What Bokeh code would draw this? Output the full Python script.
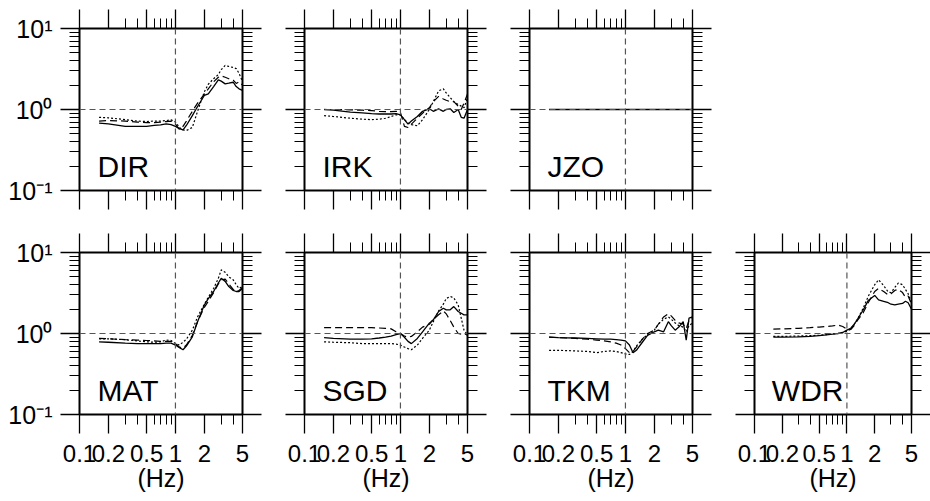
from bokeh.plotting import figure
from bokeh.layouts import gridplot
from bokeh.models import FixedTicker, LogAxis, Span, Label
from bokeh.embed import file_html
from bokeh.resources import INLINE

# ---------------- data ----------------
FREQ = [0.16, 0.2, 0.3, 0.4, 0.5, 0.6, 0.7, 0.8, 0.9, 1.0, 1.1, 1.2, 1.3,
        1.5, 1.7, 2.0, 2.2, 2.5, 2.8, 3.0, 3.3, 3.6, 4.0, 4.3, 4.6, 5.0]

DIR_solid = [0.68, 0.665, 0.62, 0.62, 0.62, 0.635, 0.645, 0.665, 0.65, 0.62, 0.58, 0.56, 0.635,
             0.84, 1.09, 1.49, 1.56, 1.92, 2.32, 2.24, 2.07, 2.11, 2.17, 1.92, 1.8, 1.72]
DIR_dashed = [0.72, 0.73, 0.72, 0.70, 0.69, 0.69, 0.70, 0.71, 0.72, 0.66, 0.57, 0.62, 0.72,
              0.95, 1.2, 1.55, 1.8, 2.2, 2.5, 2.6, 2.5, 2.4, 2.3, 2.1, 2.2, 2.0]
DIR_dotted = [0.80, 0.79, 0.75, 0.72, 0.71, 0.72, 0.72, 0.73, 0.745, 0.70, 0.60, 0.56, 0.55,
              0.60, 0.95, 1.65, 2.05, 2.4, 2.7, 3.1, 3.5, 3.4, 3.3, 3.2, 2.8, 2.2]

IRK_solid = [1.0, 0.98, 0.93, 0.91, 0.89, 0.88, 0.88, 0.88, 0.89, 0.86, 0.75, 0.66, 0.72,
             0.82, 0.95, 1.02, 0.95, 1.02, 0.95, 1.0, 1.02, 0.92, 1.0, 0.8, 0.78, 1.0]
IRK_dashed = [1.0, 1.0, 0.99, 0.98, 0.97, 0.95, 0.94, 0.94, 0.95, 0.92, 0.62, 0.60, 0.66,
              0.78, 0.9, 1.05, 1.25, 1.45, 1.35, 1.3, 1.25, 1.25, 1.1, 1.0, 1.2, 1.55]
IRK_dotted = [0.84, 0.82, 0.78, 0.76, 0.75, 0.76, 0.78, 0.82, 0.86, 0.86, 0.75, 0.68, 0.65,
              0.63, 0.75, 1.0, 1.25, 1.7, 1.8, 1.6, 1.4, 1.25, 1.15, 1.1, 1.05, 1.4]

JZO_solid = [1.0, 1.0, 1.0, 1.0, 1.0, 1.0, 1.0, 1.0, 1.0, 1.0, 1.0, 1.0, 1.0,
             1.0, 1.0, 1.0, 1.0, 1.0, 1.0, 1.0, 1.0, 1.0, 1.0, 1.0, 1.0, 1.0]
JZO_dashed = [1.0, 1.0, 1.0, 1.0, 1.0, 1.0, 1.0, 1.0, 1.0, 1.0, 1.0, 1.0, 1.0,
              1.0, 1.0, 1.0, 1.0, 1.0, 1.0, 1.0, 1.0, 1.0, 1.0, 1.0, 1.0, 1.0]
JZO_dotted = [1.0, 1.0, 1.0, 1.0, 1.0, 1.0, 1.0, 1.0, 1.0, 1.0, 1.0, 1.0, 1.0,
              1.0, 1.0, 1.0, 1.0, 1.0, 1.0, 1.0, 1.0, 1.0, 1.0, 1.0, 1.0, 1.0]

MAT_solid = [0.79, 0.78, 0.76, 0.75, 0.75, 0.75, 0.75, 0.76, 0.76, 0.72, 0.67, 0.63, 0.70,
             0.91, 1.4, 2.25, 2.7, 3.3, 4.2, 4.8, 4.4, 3.8, 3.4, 3.3, 3.3, 3.6]
MAT_dashed = [0.87, 0.86, 0.84, 0.83, 0.82, 0.81, 0.80, 0.80, 0.80, 0.75, 0.68, 0.66, 0.72,
              0.95, 1.4, 2.1, 2.5, 3.2, 4.1, 4.6, 4.7, 4.1, 3.5, 3.3, 3.4, 3.7]
MAT_dotted = [0.86, 0.86, 0.84, 0.81, 0.79, 0.78, 0.79, 0.83, 0.82, 0.75, 0.72, 0.78, 0.85,
              1.1, 1.6, 2.3, 2.8, 3.6, 4.8, 6.1, 5.7, 5.0, 4.6, 4.0, 3.6, 3.8]

SGD_solid = [0.89, 0.87, 0.85, 0.85, 0.86, 0.88, 0.9, 0.93, 0.97, 1.0, 0.9, 0.8, 0.75,
             0.87, 1.05, 1.34, 1.47, 1.87, 2.05, 1.96, 1.96, 2.15, 1.87, 1.78, 1.7, 1.7]
SGD_dashed = [1.18, 1.18, 1.18, 1.18, 1.18, 1.17, 1.16, 1.14, 1.05, 1.0, 0.93, 0.9, 0.92,
              1.05, 1.2, 1.3, 1.5, 1.7, 1.9, 1.75, 1.45, 1.2, 1.0, 0.98, 1.0, 0.95]
SGD_dotted = [0.79, 0.78, 0.77, 0.75, 0.75, 0.75, 0.75, 0.75, 0.74, 0.72, 0.68, 0.65, 0.63,
              0.72, 0.87, 1.1, 1.4, 1.9, 2.3, 2.7, 2.87, 2.75, 2.25, 1.55, 1.1, 0.96]

TKM_solid = [0.90, 0.89, 0.88, 0.87, 0.86, 0.85, 0.85, 0.84, 0.83, 0.81, 0.72, 0.58, 0.62,
             0.78, 0.95, 1.05, 1.1, 1.05, 1.4, 1.25, 1.1, 1.2, 1.4, 0.83, 1.55, 1.6]
TKM_dashed = [0.90, 0.89, 0.87, 0.85, 0.83, 0.81, 0.79, 0.76, 0.72, 0.65, 0.58, 0.60, 0.68,
              0.85, 1.0, 1.1, 1.3, 1.6, 1.75, 1.65, 1.45, 1.35, 1.3, 1.15, 1.45, 1.55]
TKM_dotted = [0.62, 0.62, 0.61, 0.60, 0.58, 0.60, 0.61, 0.60, 0.58, 0.56, 0.55, 0.60, 0.70,
              0.85, 0.97, 1.1, 1.3, 1.5, 1.6, 1.5, 1.35, 1.25, 1.2, 1.05, 1.25, 1.35]

WDR_solid = [0.90, 0.90, 0.91, 0.92, 0.94, 0.96, 0.98, 1.0, 1.03, 1.1, 1.16, 1.3, 1.5,
             1.95, 2.55, 2.95, 2.6, 2.5, 2.4, 2.3, 2.25, 2.3, 2.35, 2.5, 2.4, 2.0]
WDR_dashed = [1.13, 1.14, 1.16, 1.18, 1.2, 1.22, 1.24, 1.27, 1.22, 1.13, 1.12, 1.25, 1.45,
              1.8, 2.4, 3.3, 3.6, 3.3, 3.0, 3.1, 3.4, 3.5, 3.2, 2.8, 2.9, 2.3]
WDR_dotted = [0.92, 0.92, 0.93, 0.94, 0.95, 0.97, 0.99, 1.0, 1.02, 1.07, 1.13, 1.3, 1.5,
              2.05, 2.87, 4.0, 4.6, 3.9, 3.25, 3.2, 3.7, 4.2, 4.0, 3.5, 3.1, 2.4]

STATION_NAMES = ["DIR", "IRK", "JZO", "MAT", "SGD", "TKM", "WDR"]
SERIES = {
    "DIR": (DIR_solid, DIR_dashed, DIR_dotted),
    "IRK": (IRK_solid, IRK_dashed, IRK_dotted),
    "JZO": (JZO_solid, JZO_dashed, JZO_dotted),
    "MAT": (MAT_solid, MAT_dashed, MAT_dotted),
    "SGD": (SGD_solid, SGD_dashed, SGD_dotted),
    "TKM": (TKM_solid, TKM_dashed, TKM_dotted),
    "WDR": (WDR_solid, WDR_dashed, WDR_dotted),
}
GRID_POS = {"DIR": (0, 0), "IRK": (0, 1), "JZO": (0, 2),
            "MAT": (1, 0), "SGD": (1, 1), "TKM": (1, 2), "WDR": (1, 3)}

X_MAJOR = [0.1, 0.2, 0.5, 1.0, 2.0, 5.0]
X_MINOR = [0.3, 0.4, 0.6, 0.7, 0.8, 0.9, 3.0, 4.0]
X_LABELS = ["0.1", "0.2", "0.5", "1", "2", "5"]
Y_MAJOR = [0.1, 1.0, 10.0]
Y_MINOR = [0.2, 0.3, 0.4, 0.5, 0.6, 0.7, 0.8, 0.9, 2.0, 3.0, 4.0, 5.0, 6.0, 7.0, 8.0, 9.0]
Y_LABELS = ["10\u207b\u00b9", "10\u2070", "10\u00b9"]
X_TITLE = "(Hz)"

FONT = "Liberation Sans"


def style_axis(ax, major, minor, labels=None, size="24px"):
    ax.ticker = FixedTicker(ticks=major, minor_ticks=minor)
    ax.axis_line_color = None
    ax.major_tick_out = 19
    ax.major_tick_in = 0
    ax.minor_tick_out = 10
    ax.minor_tick_in = 0
    ax.major_tick_line_color = "black"
    ax.minor_tick_line_color = "black"
    ax.major_tick_line_width = 1.3
    ax.minor_tick_line_width = 1
    ax.major_label_text_font = FONT
    ax.major_label_text_font_size = size
    ax.major_label_text_color = "black"
    if labels is None:
        ax.major_label_overrides = {t: "" for t in major}
    else:
        ax.major_label_overrides = {t: s for t, s in zip(major, labels)}


def make_panel(name):
    r, c = GRID_POS[name]
    left = 79 if c == 0 else 42
    right = 20 if c < 3 else 13
    top = 28 if r == 0 else 19
    bottom = 43 if r == 0 else 87
    p = figure(width=left + 163 + right, height=top + 162 + bottom,
               x_axis_type="log", y_axis_type="log",
               x_range=(0.1, 5.0), y_range=(0.1, 10.0),
               min_border_left=left, min_border_right=right,
               min_border_top=top, min_border_bottom=bottom,
               output_backend="svg", toolbar_location=None,
               background_fill_color="white", border_fill_color="white")
    p.outline_line_color = "black"
    p.outline_line_width = 2
    p.xgrid.visible = False
    p.ygrid.visible = False

    style_axis(p.xaxis[0], X_MAJOR, X_MINOR, X_LABELS if r == 1 else None, "24px")
    p.xaxis[0].major_label_standoff = 11
    if r == 1:
        p.xaxis[0].axis_label = X_TITLE
        p.xaxis[0].axis_label_text_font = FONT
        p.xaxis[0].axis_label_text_font_size = "25px"
        p.xaxis[0].axis_label_text_font_style = "normal"
        p.xaxis[0].axis_label_text_color = "black"
        p.xaxis[0].axis_label_standoff = -1
    style_axis(p.yaxis[0], Y_MAJOR, Y_MINOR, Y_LABELS if c == 0 else None, "25px")
    p.yaxis[0].major_label_standoff = 8

    top_ax = LogAxis()
    style_axis(top_ax, X_MAJOR, X_MINOR)
    p.add_layout(top_ax, "above")
    right_ax = LogAxis()
    style_axis(right_ax, Y_MAJOR, Y_MINOR)
    p.add_layout(right_ax, "right")

    p.add_layout(Span(location=1.0, dimension="width", line_color="#555555",
                      line_dash="6 4", line_width=1.2))
    p.add_layout(Span(location=1.0, dimension="height", line_color="#555555",
                      line_dash="6 4", line_width=1.2))

    solid, dashed, dotted = SERIES[name]
    p.line(FREQ, dotted, line_color="black", line_width=1.2, line_dash="2 2")
    p.line(FREQ, dashed, line_color="black", line_width=1.2, line_dash="7 4")
    p.line(FREQ, solid, line_color="black", line_width=1.3)

    p.add_layout(Label(x=0.154, y=0.198, text=name, text_font=FONT,
                       text_font_size="30px", text_color="black",
                       text_align="left", text_baseline="alphabetic"))
    return p


panels = {n: make_panel(n) for n in STATION_NAMES}
grid = [[panels["DIR"], panels["IRK"], panels["JZO"], None],
        [panels["MAT"], panels["SGD"], panels["TKM"], panels["WDR"]]]
layout = gridplot(grid, toolbar_location=None)

open("out.html", "w").write(file_html(layout, INLINE))
